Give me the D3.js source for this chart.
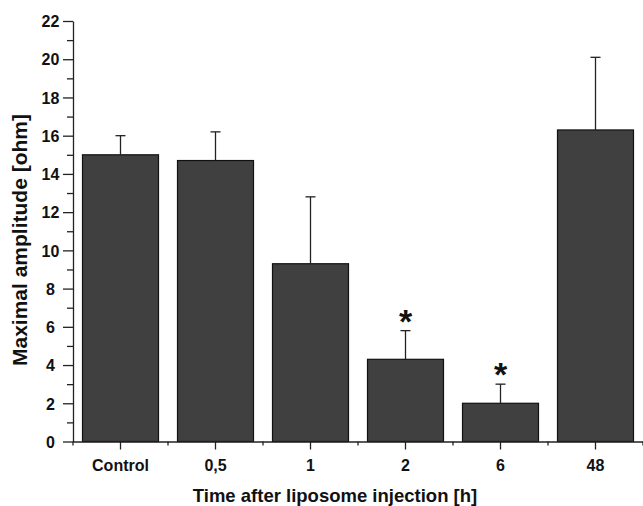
<!DOCTYPE html>
<html>
<head>
<script src="https://d3js.org/d3.v7.min.js"></script>
<style>
    body {
        margin: 0;
        background-color: #ffffff;
    }
    svg text {
        font-family: "Liberation Sans", Arial, sans-serif;
        font-weight: bold;
        fill: #111;
    }
    .axis path,
    .axis line {
        stroke: #222;
        stroke-width: 1.3px;
    }
</style>
</head>
<body>
<svg width="643" height="506"></svg>
<script>
    // values
    var categories = ["Control", "0,5", "1", "2", "6", "48"];
    var means = [15.0, 14.7, 9.3, 4.3, 2.0, 16.3];
    var errors = [1.0, 1.5, 3.5, 1.5, 1.0, 3.8];
    var significant = [false, false, false, true, true, false];
    var yMajorTicks = [0, 2, 4, 6, 8, 10, 12, 14, 16, 18, 20, 22];
    var yMinorTicks = [1, 3, 5, 7, 9, 11, 13, 15, 17, 19, 21];

    var data = categories.map(function (c, i) {
        return {cat: c, mean: means[i], err: errors[i], sig: significant[i]};
    });

    var svg = d3.select("svg");

    var x = d3.scaleBand()
        .domain(categories)
        .range([73, 643])
        .paddingInner(0.2)
        .paddingOuter(0.1);

    var y = d3.scaleLinear()
        .domain([0, 22])
        .range([441.5, 21]);

    // bars
    svg.selectAll(".bar")
        .data(data)
        .enter().append("rect")
        .attr("class", "bar")
        .attr("x", function (d) { return x(d.cat); })
        .attr("y", function (d) { return y(d.mean); })
        .attr("width", x.bandwidth())
        .attr("height", function (d) { return y(0) - y(d.mean); })
        .attr("fill", "#404040")
        .attr("stroke", "#111")
        .attr("stroke-width", 1.2);

    // error bars (upper only)
    var eb = svg.selectAll(".err")
        .data(data)
        .enter().append("g")
        .attr("class", "err")
        .attr("stroke", "#222")
        .attr("stroke-width", 1.3);

    eb.append("line")
        .attr("x1", function (d) { return x(d.cat) + x.bandwidth() / 2; })
        .attr("x2", function (d) { return x(d.cat) + x.bandwidth() / 2; })
        .attr("y1", function (d) { return y(d.mean); })
        .attr("y2", function (d) { return y(d.mean + d.err); });

    eb.append("line")
        .attr("x1", function (d) { return x(d.cat) + x.bandwidth() / 2 - 5; })
        .attr("x2", function (d) { return x(d.cat) + x.bandwidth() / 2 + 5; })
        .attr("y1", function (d) { return y(d.mean + d.err); })
        .attr("y2", function (d) { return y(d.mean + d.err); });

    // significance stars
    svg.selectAll(".star")
        .data(data.filter(function (d) { return d.sig; }))
        .enter().append("text")
        .attr("class", "star")
        .attr("x", function (d) { return x(d.cat) + x.bandwidth() / 2; })
        .attr("y", function (d) { return y(d.mean + d.err) + 2; })
        .attr("text-anchor", "middle")
        .style("font-size", "34px")
        .text("*");

    // y axis
    var yAxis = svg.append("g")
        .attr("class", "axis")
        .attr("transform", "translate(73,0)")
        .call(d3.axisLeft(y).tickValues(yMajorTicks).tickSize(10).tickSizeOuter(0));

    yAxis.selectAll("text")
        .attr("x", -22.5)
        .attr("text-anchor", "middle")
        .attr("dy", "0.36em")
        .style("font-size", "16px")
        .style("fill", "#111");

    svg.append("g")
        .attr("class", "axis")
        .attr("transform", "translate(73,0)")
        .call(d3.axisLeft(y).tickValues(yMinorTicks).tickSize(6).tickSizeOuter(0).tickFormat(""))
        .select(".domain").remove();

    // x axis
    var xAxis = svg.append("g")
        .attr("class", "axis")
        .attr("transform", "translate(0," + y(0) + ")")
        .call(d3.axisBottom(x).tickSize(8).tickSizeOuter(0));

    xAxis.select(".domain").attr("d", "M73,0.5H643");

    xAxis.selectAll("text")
        .attr("y", 29.5)
        .attr("dy", null)
        .style("font-size", "16px")
        .style("fill", "#111");

    // minor ticks on band boundaries
    var gap = (x.step() - x.bandwidth()) / 2;
    var bounds = categories.map(function (c) { return x(c) - gap; });
    bounds.push(x(categories[categories.length - 1]) + x.bandwidth() + gap);

    xAxis.selectAll(".minor")
        .data(bounds)
        .enter().append("line")
        .attr("class", "minor")
        .attr("x1", function (d) { return d; })
        .attr("x2", function (d) { return d; })
        .attr("y1", 0)
        .attr("y2", 4);

    // axis titles
    svg.append("text")
        .attr("transform", "translate(26.7,240) rotate(-90)")
        .attr("text-anchor", "middle")
        .style("font-size", "21px")
        .text("Maximal amplitude [ohm]");

    svg.append("text")
        .attr("x", 335)
        .attr("y", 501.5)
        .attr("text-anchor", "middle")
        .style("font-size", "18.5px")
        .text("Time after liposome injection [h]");
</script>
</body>
</html>
